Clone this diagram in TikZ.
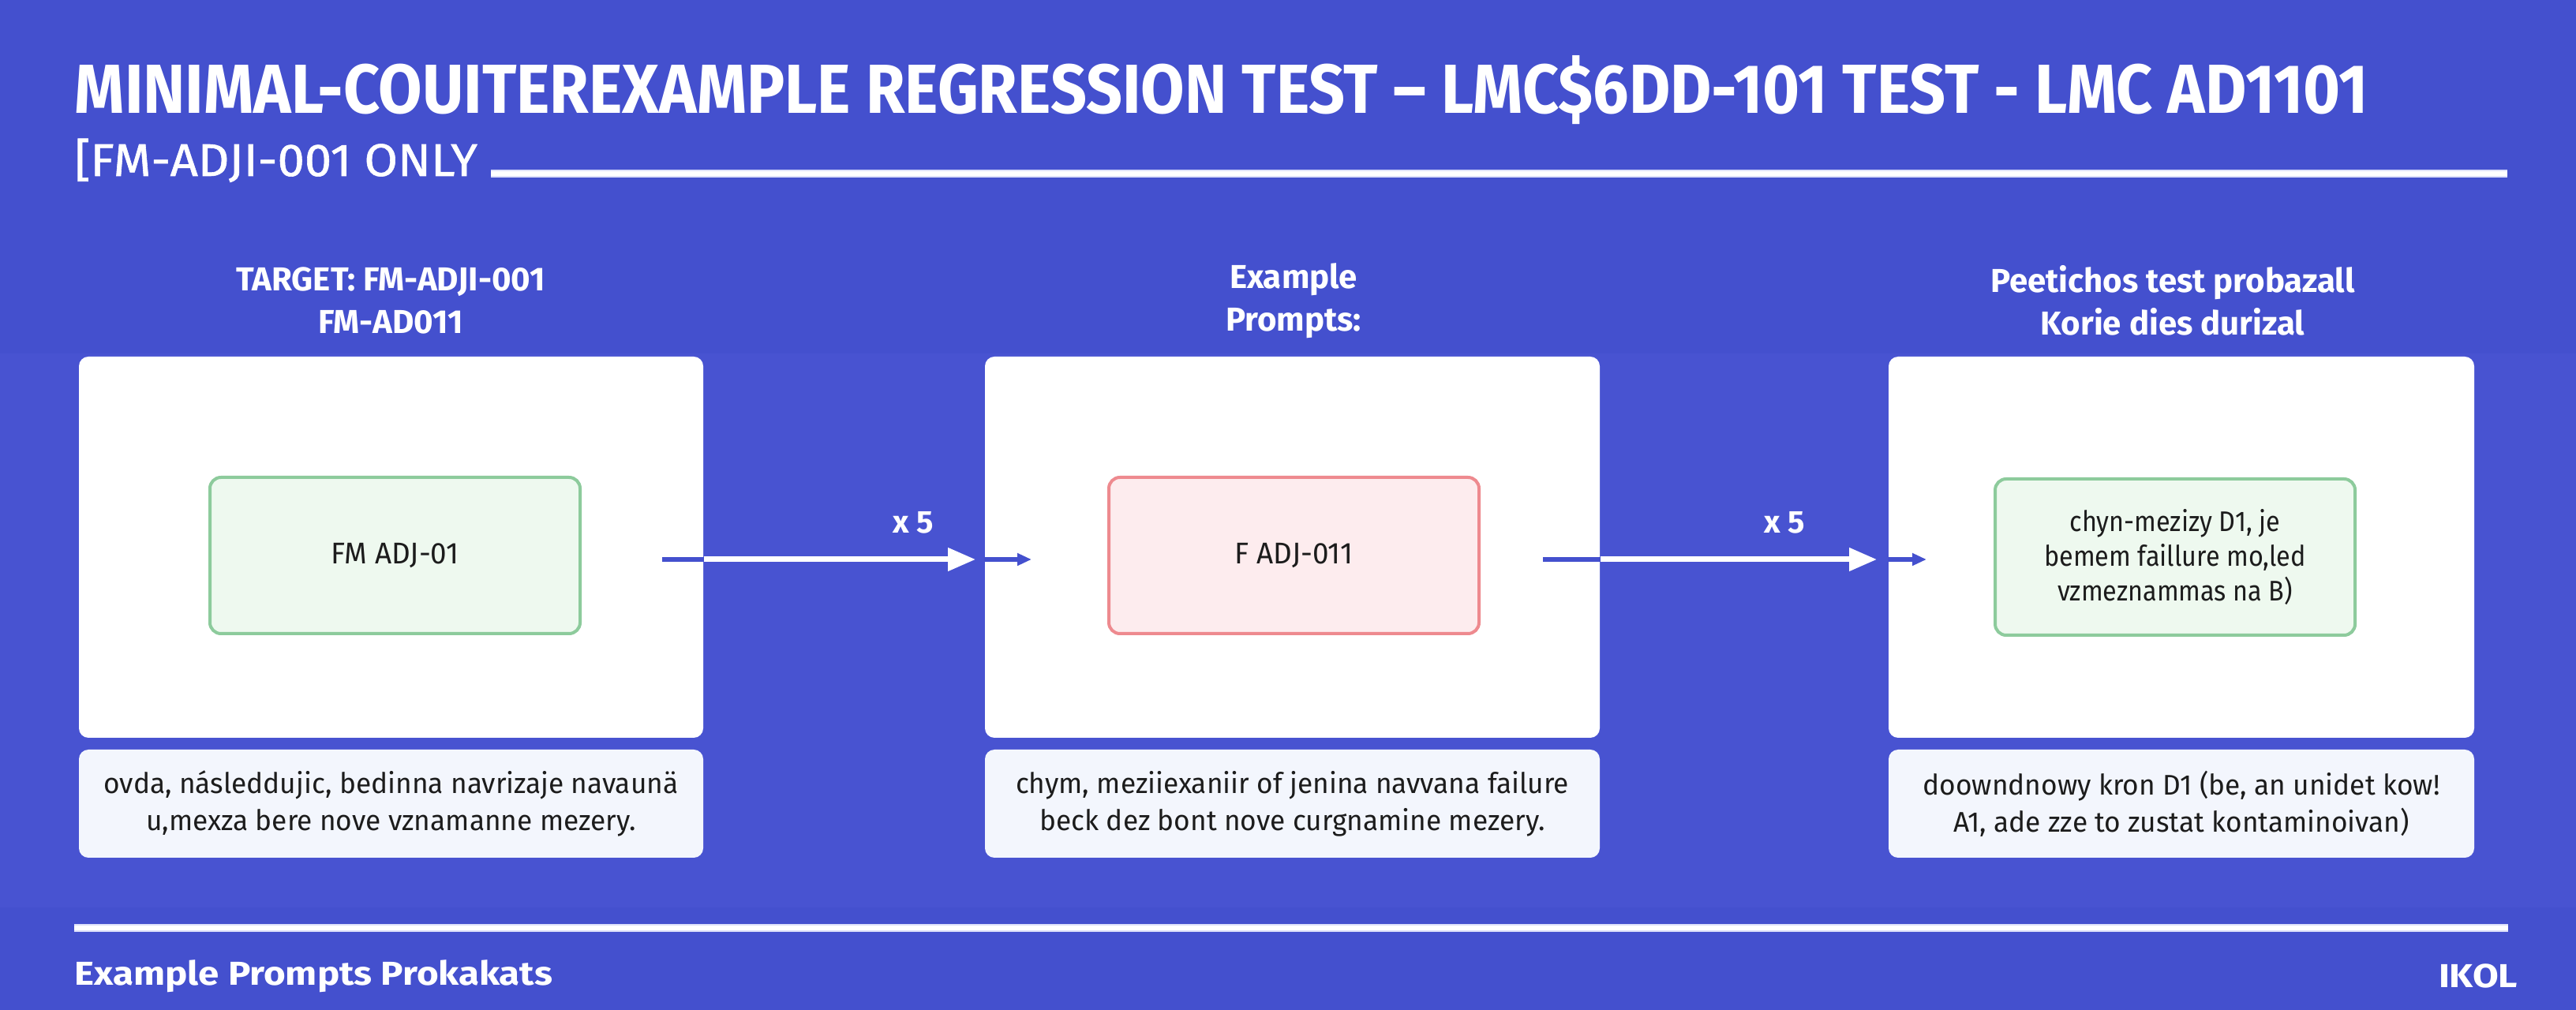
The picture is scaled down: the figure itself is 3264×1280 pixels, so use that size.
\documentclass[tikz,border=0pt]{standalone}
\usepackage{fontspec}
\setmainfont{Fira Sans}
\newfontfamily\ftitle{Fira Sans}[FakeStretch=0.914]
\newfontfamily\fsub{Fira Sans}[FakeStretch=1.06, FakeBold=1]
\newfontfamily\fhead{Fira Sans}[FakeStretch=1.0]
\newfontfamily\fbody{Fira Sans}[FakeStretch=0.98]
\newfontfamily\finner{Fira Sans}[FakeStretch=0.97]
\newfontfamily\fnarrow{Fira Sans}[FakeStretch=0.9]
\newfontfamily\ffoot{Fira Sans}[FakeStretch=1.13]
\usetikzlibrary{arrows.meta}
\definecolor{bg}{HTML}{4450CE}
\definecolor{bglow}{HTML}{4853D1}
\definecolor{capfill}{HTML}{F3F6FD}
\definecolor{ink}{HTML}{1C1C1C}
\definecolor{gfill}{HTML}{EEF9EF}
\definecolor{gline}{HTML}{8DCB9C}
\definecolor{pfill}{HTML}{FDECEE}
\definecolor{pline}{HTML}{EE8A8F}
\definecolor{rule}{HTML}{DDE0FA}
\tikzset{
  bigbox/.style={fill=white, rounded corners=3pt, inner sep=0pt, minimum height=120.75pt},
  capbox/.style={fill=capfill, rounded corners=3pt, inner sep=0pt, minimum height=34.25pt},
  captext/.style={align=center, text=ink, inner sep=0pt, font=\fbody\fontsize{9}{11.75}\selectfont},
  greenbox/.style={fill=gfill, draw=gline, line width=1pt, rounded corners=3.5pt, minimum height=49.5pt, inner sep=0pt, align=center, text=ink, font=\finner\fontsize{9.5}{10.9}\selectfont},
  pinkbox/.style={greenbox, fill=pfill, draw=pline},
  headtext/.style={align=center, text=white, inner sep=0pt, font=\fhead\bfseries\fontsize{10.5}{13.5}\selectfont},
  whitearrow/.style={draw=white, line width=1.75pt, -{Triangle[length=8.75pt, width=7pt]}},
  blueline/.style={draw=bg, line width=1.5pt},
  bluearrow/.style={draw=bg, line width=1.5pt, -{Triangle[length=4.5pt, width=3.75pt]}},
  multlabel/.style={text=white, inner sep=0pt, font=\bfseries\fontsize{10}{11}\selectfont},
  ruleline/.style={draw=white, line width=1.75pt}
}
\begin{document}
\begin{tikzpicture}[x=0.25pt,y=-0.25pt]
\useasboundingbox (0,0) rectangle (3264,1280);
\fill[bg] (0,0) rectangle (3264,1280);
\fill[bglow] (0,448) rectangle (3264,1150);

% title
\node[anchor=base west, inner sep=0pt, text=white, font=\ftitle\bfseries\fontsize{22}{24}\selectfont] (title) at (94,144)
  {MINIMAL-COUITEREXAMPLE REGRESSION TEST – LMC\$6DD-101 TEST - LMC AD1101};
\node[anchor=base west, inner sep=0pt, text=white, font=\fsub\fontsize{14.5}{16}\selectfont] (sub) at (94,223)
  {[FM-ADJI-001 ONLY};
\coordinate (rs) at (622,220);
\coordinate (re) at (3177,220);
\draw[draw=rule, line width=2.5pt] (rs) -- (re);
\draw[ruleline, line width=1.3pt] (rs) -- (re);

% headers
\node[headtext] (hd1) at (495,381) {TARGET: FM-ADJI-001\\FM-AD011};
\node[headtext] (hd2) at (1639,381) {Example\\Prompts:};
\node[headtext] (hd3) at (2753,381) {Peetichos test probazall\\Korie dies durizal};

% big boxes
\node[bigbox, minimum width=197.75pt] (box1) at (495.5,693.5) {};
\node[bigbox, minimum width=194.75pt] (box2) at (1637.5,693.5) {};
\node[bigbox, minimum width=185.5pt] (box3) at (2764,693.5) {};

% inner boxes
\node[greenbox, minimum width=117.25pt] (in1) at (500.5,704) {FM ADJ-01};
\node[pinkbox, minimum width=117.25pt] (in2) at (1639.5,704) {F ADJ-011};
\node[greenbox, minimum width=114pt, font=\fnarrow\fontsize{9}{10.9}\selectfont] (in3) at (2756,706) {chyn-mezizy D1, je\\bemem faillure mo,led\\vzmeznammas na B)};

% caption boxes
\node[capbox, minimum width=197.75pt] (cap1) at (495.5,1018.5) {};
\node[capbox, minimum width=194.75pt] (cap2) at (1637.5,1018.5) {};
\node[capbox, minimum width=185.5pt] (cap3) at (2764,1018.5) {};
\node[captext] (ct1) at (cap1.center) {ovda, následdujic, bedinna navrizaje navaunä\\u,mexza bere nove vznamanne mezery.};
\node[captext] (ct2) at (cap2.center) {chym, meziiexaniir of jenina navvana failure\\beck dez bont nove curgnamine mezery.};
\node[captext] (ct3) at (cap3.center) {doowndnowy kron D1 (be, an unidet kow!\\A1, ade zze to zustat kontaminoivan)};

% arrows
\coordinate (a1s) at (839,709);
\coordinate (a1e) at (1307,709);
\coordinate (a2s) at (1955,709);
\coordinate (a2e) at (2441,709);
\draw[blueline] (a1s) -- (a1s -| box1.east);
\draw[whitearrow, shorten >=2.75pt] (a1s -| box1.east) -- node[multlabel, pos=0.748, yshift=11.75pt] (m1) {x 5} (a1s -| box2.west);
\draw[bluearrow] (a1s -| box2.west) -- (a1e);
\draw[blueline] (a2s) -- (a2s -| box2.east);
\draw[whitearrow, shorten >=3.5pt] (a2s -| box2.east) -- node[multlabel, pos=0.64, yshift=11.75pt] (m2) {x 5} (a2s -| box3.west);
\draw[bluearrow] (a2s -| box3.west) -- (a2e);

% footer
\coordinate (fs) at (94,1176);
\coordinate (fe) at (3178,1176);
\draw[draw=rule, line width=2.5pt] (fs) -- (fe);
\draw[ruleline, line width=1.3pt] (fs) -- (fe);
\node[anchor=west, inner sep=0pt, text=white, font=\ffoot\bfseries\fontsize{10.5}{12}\selectfont] (foot1) at (94,1237) {Example Prompts Prokakats};
\node[anchor=east, inner sep=0pt, text=white, font=\ffoot\bfseries\fontsize{10.5}{12}\selectfont] (foot2) at (3191,1237) {IKOL};
\end{tikzpicture}
\end{document}
